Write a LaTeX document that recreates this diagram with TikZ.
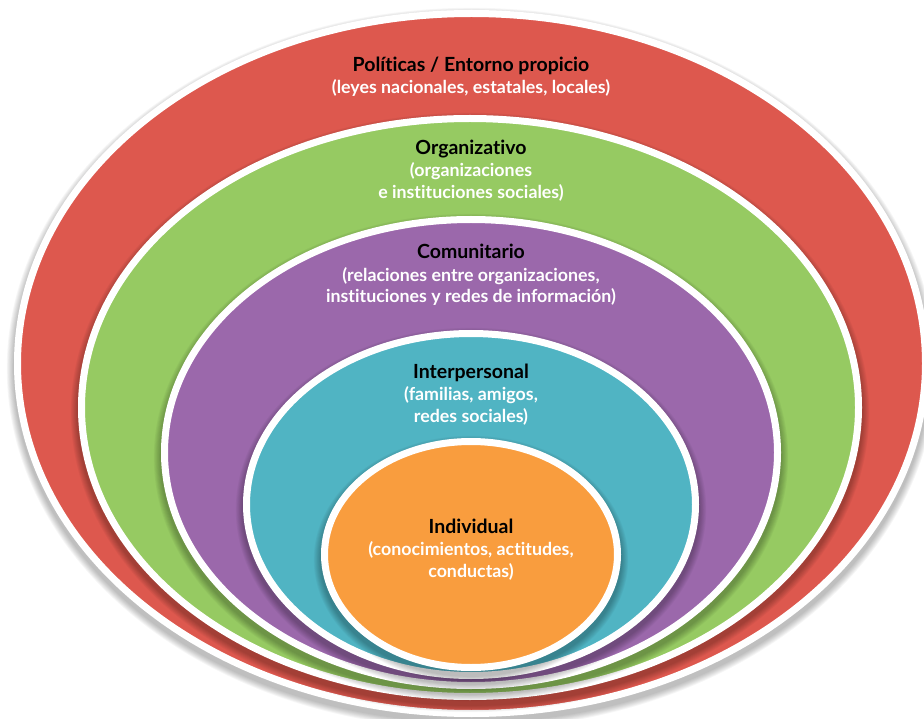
\documentclass[tikz,border=0pt]{standalone}
\usepackage{fontspec}
\setmainfont{Lato}[Ligatures=NoCommon]
\usetikzlibrary{shapes.geometric}
\definecolor{cRed}{RGB}{221,88,78}
\definecolor{cGreen}{RGB}{150,202,98}
\definecolor{cPurple}{RGB}{155,104,171}
\definecolor{cTeal}{RGB}{80,180,195}
\definecolor{cOrange}{RGB}{249,157,62}
\tikzset{
  ring/.style={ellipse, draw=white, line width=7pt, inner sep=0pt, outer sep=0pt},
  ttl/.style={font=\bfseries\fontsize{19.5}{22}\selectfont, text=black, inner sep=0pt, anchor=base},
  sub/.style={font=\bfseries\fontsize{17.8}{21}\selectfont, text=white, inner sep=0pt, anchor=base},
}
\newcommand{\shadowring}[4]{%
  \foreach \k in {1,...,8}{%
    \fill[black, opacity=0.035] (#1,#2+5) ellipse [x radius=#3pt+3.5pt+\k*0.9pt, y radius=#4pt+3.5pt+\k*0.9pt];
  }%
}
\begin{document}
\begin{tikzpicture}[x=1pt,y=-1pt]
\useasboundingbox (0,0) rectangle (924,719);
% red
\shadowring{471.5}{363.5}{454}{350}
\node[ring, fill=cRed, minimum width=908pt, minimum height=700pt] (red) at (471.5,363.5) {};
% green
\shadowring{470}{407.5}{388.5}{289}
\node[ring, fill=cGreen, minimum width=777pt, minimum height=578pt] (green) at (470,407.5) {};
% purple
\shadowring{471}{452.5}{306.5}{233}
\node[ring, fill=cPurple, minimum width=613pt, minimum height=466pt] (purple) at (471,452.5) {};
% teal
\shadowring{471}{504.5}{224.5}{171}
\node[ring, fill=cTeal, minimum width=449pt, minimum height=342pt] (teal) at (471,504.5) {};
% orange
\shadowring{471}{554.5}{146.5}{113}
\node[ring, fill=cOrange, minimum width=293pt, minimum height=226pt] (orange) at (471,554.5) {};

% texts
\node[ttl] (t1) at (471,72) {Políticas / Entorno propicio};
\node[sub] (s1) at (471,94) {(leyes nacionales, estatales, locales)};
\node[ttl] (t2) at (471,155) {Organizativo};
\node[sub] (s2a) at (471,177) {(organizaciones};
\node[sub] (s2b) at (471,199) {e instituciones sociales)};
\node[ttl] (t3) at (471,259) {Comunitario};
\node[sub] (s3a) at (471,282) {(relaciones entre organizaciones,};
\node[sub] (s3b) at (471,303) {instituciones y redes de información)};
\node[ttl] (t4) at (471,378) {Interpersonal};
\node[sub] (s4a) at (471,400) {(familias, amigos,};
\node[sub] (s4b) at (471,422) {redes sociales)};
\node[ttl] (t5) at (471,533) {Individual};
\node[sub] (s5a) at (471,555) {(conocimientos, actitudes,};
\node[sub] (s5b) at (471,577) {conductas)};
\end{tikzpicture}
\end{document}
